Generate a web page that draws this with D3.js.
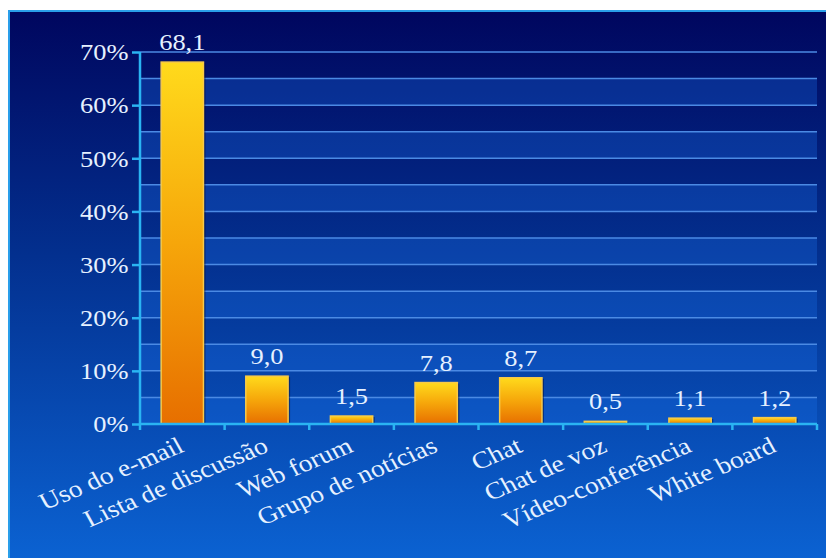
<!DOCTYPE html>
<html>
<head>
<meta charset="utf-8">
<script src="https://cdn.jsdelivr.net/npm/d3@7"></script>
<style>
  body { margin: 0; background: #ffffff; }
  svg { display: block; }
  text { font-family: "Liberation Serif", "Times New Roman", serif; fill: #e6f1ff; }
</style>
</head>
<body>
<svg id="chart" width="826" height="558"></svg>
<script>
// Ferramentas de comunicação usadas (%)
const categories = ["Uso do e-mail", "Lista de discussão", "Web forum", "Grupo de notícias",
                    "Chat", "Chat de voz", "Vídeo-conferência", "White board"];
const values = [68.1, 9.0, 1.5, 7.8, 8.7, 0.5, 1.1, 1.2];
const yTicks = [0, 10, 20, 30, 40, 50, 60, 70];
const gridSteps = [5, 10, 15, 20, 25, 30, 35, 40, 45, 50, 55, 60, 65, 70];

const W = 826, H = 558;
const plot = { left: 140, right: 817, top: 52, bottom: 424 };
const SX = 1.15; // horizontal stretch of the lettering

const svg = d3.select("#chart");
const defs = svg.append("defs");

const bg = defs.append("linearGradient").attr("id", "bg")
  .attr("x1", 0).attr("y1", 0).attr("x2", 0).attr("y2", 1);
bg.append("stop").attr("offset", "0%").attr("stop-color", "#00065e");
bg.append("stop").attr("offset", "45%").attr("stop-color", "#03308f");
bg.append("stop").attr("offset", "100%").attr("stop-color", "#0b62d2");

const barGrad = defs.append("linearGradient").attr("id", "bar")
  .attr("x1", 0).attr("y1", 0).attr("x2", 0).attr("y2", 1);
barGrad.append("stop").attr("offset", "0%").attr("stop-color", "#ffda1c");
barGrad.append("stop").attr("offset", "50%").attr("stop-color", "#f6a60a");
barGrad.append("stop").attr("offset", "100%").attr("stop-color", "#e76f00");

// Slide background with its light edge
svg.append("rect").attr("x", 8).attr("y", 10).attr("width", W - 8).attr("height", H - 10)
  .attr("fill", "url(#bg)");
svg.append("path").attr("d", `M9,${H} V11 H${W}`)
  .attr("fill", "none").attr("stroke", "#2a9fea").attr("stroke-width", 2);

const x = d3.scaleBand().domain(categories)
  .range([plot.left, plot.right]).paddingInner(0.5).paddingOuter(0.25);
const y = d3.scaleLinear().domain([0, 70]).range([plot.bottom, plot.top]);

// Alternating horizontal bands
const bands = d3.range(0, 70, 5);
svg.append("g").selectAll("rect").data(bands.filter((d, i) => i % 2 === 0)).join("rect")
  .attr("x", plot.left).attr("width", plot.right - plot.left)
  .attr("y", d => y(d + 5)).attr("height", d => y(d) - y(d + 5))
  .attr("fill", "#1a72ec").attr("opacity", 0.3);

// Gridlines
svg.append("g").selectAll("line").data(gridSteps).join("line")
  .attr("x1", plot.left).attr("x2", plot.right)
  .attr("y1", d => y(d)).attr("y2", d => y(d))
  .attr("stroke", "#4b8ae4").attr("stroke-width", 1.5);

// Bars
const fmt = v => d3.format(".1f")(v).replace(".", ",");
const barG = svg.append("g");
barG.selectAll("rect.shadow").data(values).join("rect").attr("class", "shadow")
  .attr("x", (d, i) => x(categories[i]) + 2).attr("y", d => y(d) + 1)
  .attr("width", x.bandwidth()).attr("height", d => y(0) - y(d))
  .attr("fill", "#000830").attr("opacity", 0.45);
barG.selectAll("rect.bar").data(values).join("rect").attr("class", "bar")
  .attr("x", (d, i) => x(categories[i])).attr("y", d => y(d))
  .attr("width", x.bandwidth()).attr("height", d => y(0) - y(d))
  .attr("fill", "url(#bar)").attr("stroke", "#f8ca48").attr("stroke-width", 1.5);

// Value labels
svg.append("g").selectAll("text").data(values).join("text")
  .attr("transform", (d, i) => `translate(${x(categories[i]) + x.bandwidth() / 2},${y(d) - 12}) scale(${SX},1)`)
  .attr("text-anchor", "middle").attr("font-size", 23)
  .text(d => fmt(d));

// Y axis
const yAxis = svg.append("g").attr("transform", `translate(${plot.left},0)`)
  .call(d3.axisLeft(y).tickValues(yTicks).tickFormat(d => d + "%").tickSize(8).tickPadding(2));
yAxis.select(".domain").attr("stroke", "#2ab4f2").attr("stroke-width", 2.5)
  .attr("d", `M0,${plot.bottom}V${plot.top}`);
yAxis.selectAll(".tick line").attr("stroke", "#2ab4f2").attr("stroke-width", 2.5);
yAxis.selectAll(".tick text").attr("font-size", 23).attr("fill", "#e6f1ff")
  .attr("font-family", "'Liberation Serif', serif")
  .attr("transform", `scale(${SX},1)`).attr("dy", "0.34em");

// X axis with ticks at category boundaries
const bounds = categories.map(c => x(c) - x.step() * x.paddingInner() / 2).concat([plot.right]);
const xAxis = svg.append("g");
xAxis.append("line").attr("x1", plot.left).attr("x2", plot.right)
  .attr("y1", y(0)).attr("y2", y(0)).attr("stroke", "#2ab4f2").attr("stroke-width", 2.5);
xAxis.selectAll("line.tk").data(bounds).join("line").attr("class", "tk")
  .attr("x1", d => d).attr("x2", d => d).attr("y1", y(0)).attr("y2", y(0) + 6)
  .attr("stroke", "#2ab4f2").attr("stroke-width", 2.5);

// Category labels
svg.append("g").selectAll("text").data(categories).join("text")
  .attr("transform", c => `translate(${x(c) + x.bandwidth() / 2 + 3},451) scale(${SX},1) rotate(-26)`)
  .attr("text-anchor", "end").attr("font-size", 24)
  .text(c => c);
</script>
</body>
</html>
